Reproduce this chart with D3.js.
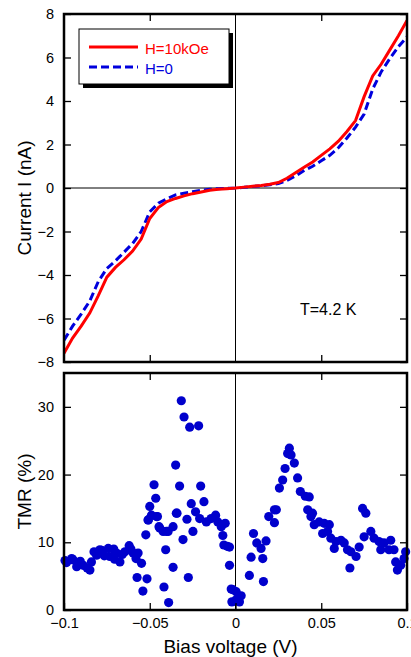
<!DOCTYPE html>
<html>
<head>
<meta charset="utf-8">
<script src="https://cdn.jsdelivr.net/npm/d3@7"></script>
<style>
  body { margin: 0; background: #fff; }
  svg { display: block; font-family: "Liberation Sans", Arial, Helvetica, sans-serif; }
</style>
</head>
<body>
<div id="chart"></div>
<script>
// bias voltage (V) for the I-V curves
const biasV = [-0.1, -0.095, -0.09, -0.085, -0.08, -0.075, -0.07, -0.065, -0.06, -0.055, -0.05,
  -0.045, -0.04, -0.035, -0.03, -0.025, -0.02, -0.015, -0.01, -0.005, 0,
  0.005, 0.01, 0.015, 0.02, 0.025, 0.03, 0.035, 0.04, 0.045, 0.05,
  0.055, 0.06, 0.065, 0.07, 0.075, 0.08, 0.085, 0.09, 0.095, 0.1];
// current (nA), H=10kOe
const currentH10 = [-7.6, -6.9, -6.35, -5.75, -4.95, -4.1, -3.65, -3.3, -2.9, -2.35, -1.4,
  -0.9, -0.62, -0.48, -0.36, -0.26, -0.18, -0.1, -0.06, -0.03, 0,
  0.04, 0.08, 0.12, 0.17, 0.25, 0.45, 0.7, 0.95, 1.2, 1.5,
  1.8, 2.15, 2.6, 3.1, 4.2, 5.15, 5.7, 6.35, 7.0, 7.7];
// current (nA), H=0
const currentH0 = [-7.0, -6.35, -5.8, -5.2, -4.3, -3.7, -3.35, -2.95, -2.55, -2.0, -1.1,
  -0.7, -0.5, -0.32, -0.24, -0.17, -0.1, -0.06, -0.03, -0.01, 0,
  0.03, 0.07, 0.1, 0.15, 0.2, 0.35, 0.55, 0.8, 1.0, 1.25,
  1.5, 1.85, 2.3, 2.8, 3.4, 4.55, 5.35, 5.95, 6.5, 6.95];

// TMR scatter: bias (V) and TMR (%)
const tmrV = [-0.0994, -0.0946, -0.0926, -0.0888, -0.0849, -0.084, -0.081, -0.0791, -0.0742, -0.0733,
  -0.0694, -0.0674, -0.0645, -0.062, -0.0597, -0.0568, -0.0548, -0.0574, -0.0516, -0.054,
  -0.0985, -0.0955, -0.0905, -0.0865, -0.0825, -0.078, -0.0765, -0.071, -0.0705, -0.066, -0.061, -0.058,
  -0.0523, -0.051, -0.05, -0.0465, -0.0461, -0.0442, -0.0403, -0.0364, -0.0407, -0.0364, -0.0417, -0.039, -0.0345,
  -0.0316, -0.03, -0.0267, -0.0215, -0.0349, -0.0475, -0.0326, -0.0203, -0.0184, -0.0258,
  -0.049, -0.0455, -0.0508, -0.0341, -0.0233, -0.0209, -0.0283, -0.017, -0.0142, -0.0116, -0.0103, -0.0083,
  -0.0446, -0.0422, -0.0393, -0.0248, -0.0306, -0.0074, -0.0068, -0.0048, -0.0275,
  -0.0035, -0.0021, 0.0004, -0.0035, -0.0025, -0.0016, 0.0033, 0.0004, 0.0023, -0.006,
  0.0314, 0.0324, 0.0304, 0.0343, 0.0289, 0.0362, 0.0275, 0.0256, 0.0378, 0.0407, 0.0421, 0.044, 0.0459,
  0.0227, 0.0194, 0.0227, 0.0238, 0.0105, 0.0124, 0.0178, 0.0149, 0.0159, 0.0091, 0.0081, 0.0163,
  0.043, 0.0449, 0.0488, 0.0517, 0.0547, 0.0508, 0.0537, 0.0556, 0.0586, 0.0615, 0.0576, 0.0634,
  0.0653, 0.0673, 0.0703, 0.0721, 0.0667, 0.0741, 0.076, 0.075, 0.0789, 0.0808, 0.0837, 0.0866,
  0.0905, 0.0847, 0.0895, 0.0924, 0.0934, 0.0944, 0.0963, 0.0992, 0.0983];
const tmrVal = [7.3, 7.4, 6.4, 6.6, 5.9, 7.1, 8.1, 8.9, 9.1, 7.9,
  8.4, 7.1, 8.6, 9.5, 8.4, 8.4, 6.9, 4.8, 4.6, 2.8,
  7.0, 7.6, 7.2, 6.2, 8.6, 8.8, 8.0, 9.0, 7.5, 8.2, 9.0, 7.6,
  11.1, 13.3, 15.3, 16.5, 13.8, 12.1, 11.6, 12.3, 8.9, 6.3, 3.4, 1.1, 14.3,
  30.9, 28.5, 27.0, 27.2, 21.4, 18.5, 18.3, 18.3, 16.0, 15.7,
  14.0, 13.8, 13.3, 14.3, 14.5, 13.5, 13.4, 13.0, 13.5, 14.0, 13.0, 12.3,
  12.3, 11.6, 11.6, 11.6, 10.4, 11.0, 9.6, 9.4, 4.8,
  6.6, 1.2, 2.7, 9.3, 3.1, 3.0, 2.1, 1.5, 1.2, 12.8,
  23.9, 22.9, 23.1, 21.7, 20.9, 19.5, 19.2, 18.0, 17.5, 16.8, 14.8, 13.8, 12.6,
  14.8, 13.8, 12.9, 14.8, 11.3, 9.9, 10.2, 9.1, 7.6, 7.8, 5.1, 4.2,
  16.7, 14.3, 13.0, 12.8, 12.6, 11.3, 11.6, 10.6, 10.1, 10.3, 9.1, 9.9,
  8.9, 8.6, 7.9, 9.3, 6.2, 15.0, 14.3, 10.8, 11.6, 10.6, 10.1, 9.9,
  10.3, 8.9, 8.9, 8.9, 7.1, 5.9, 6.6, 8.6, 7.6];

const xTicks = [-0.1, -0.05, 0, 0.05, 0.1];
const xTickLabels = ["\u22120.1", "\u22120.05", "0", "0.05", "0.1"];
const iTicks = [-8, -6, -4, -2, 0, 2, 4, 6, 8];
const tmrTicks = [0, 10, 20, 30];

const series = [
  { name: "H=10kOe", values: currentH10, color: "#ff0000", dash: null },
  { name: "H=0", values: currentH0, color: "#0000dd", dash: "8,4" }
];

const W = 411, H = 657;
const left = 64, right = 407;
const top1 = 14, bot1 = 362;
const top2 = 373, bot2 = 610;

const svg = d3.select("#chart").append("svg")
  .attr("width", W).attr("height", H);

const x = d3.scaleLinear().domain([-0.1, 0.1]).range([left, right]);
const y1 = d3.scaleLinear().domain([-8, 8]).range([bot1, top1]);
const y2 = d3.scaleLinear().domain([0, 35]).range([bot2, top2]);

svg.append("defs").append("clipPath").attr("id", "clip1")
  .append("rect").attr("x", left).attr("y", top1).attr("width", right - left).attr("height", bot1 - top1);

// ---------- top panel: I-V ----------
const g1 = svg.append("g");

// zero lines
g1.append("line").attr("x1", x(0)).attr("x2", x(0)).attr("y1", top1).attr("y2", bot1)
  .attr("stroke", "#000").attr("stroke-width", 1);
g1.append("line").attr("x1", left).attr("x2", right).attr("y1", y1(0)).attr("y2", y1(0))
  .attr("stroke", "#000").attr("stroke-width", 1);

const line = d3.line()
  .x((d, i) => x(biasV[i]))
  .y(d => y1(d));

// draw blue first so red sits on top where they overlap
series.slice().reverse().forEach(s => {
  g1.append("path")
    .attr("clip-path", "url(#clip1)")
    .attr("d", line(s.values))
    .attr("fill", "none")
    .attr("stroke", s.color)
    .attr("stroke-width", 3)
    .attr("stroke-dasharray", s.dash);
});

// axes, ticks pointing inward
g1.append("g").attr("transform", `translate(${left},0)`)
  .call(d3.axisLeft(y1).tickValues(iTicks).tickSize(-7).tickPadding(10)
    .tickFormat(d => d3.format("")(d).replace("-", "\u2212")));
g1.append("g").attr("transform", `translate(${right},0)`)
  .call(d3.axisRight(y1).tickValues(iTicks).tickSize(-7).tickFormat(""));
g1.append("g").attr("transform", `translate(0,${bot1})`)
  .call(d3.axisBottom(x).tickValues([-0.05, 0.05]).tickSize(-7).tickFormat(""));
g1.append("g").attr("transform", `translate(0,${top1})`)
  .call(d3.axisTop(x).tickValues([-0.05, 0.05]).tickSize(-7).tickFormat(""));

g1.append("rect").attr("x", left).attr("y", top1).attr("width", right - left).attr("height", bot1 - top1)
  .attr("fill", "none").attr("stroke", "#000").attr("stroke-width", 2.5);

// legend with drop shadow
const lg = g1.append("g");
lg.append("rect").attr("x", 83).attr("y", 33).attr("width", 150).attr("height", 55).attr("fill", "#000");
lg.append("rect").attr("x", 79).attr("y", 29).attr("width", 150).attr("height", 55)
  .attr("fill", "#fff").attr("stroke", "#000").attr("stroke-width", 1);
series.forEach((s, i) => {
  const ly = 47 + i * 20;
  lg.append("line").attr("x1", 89).attr("x2", 138).attr("y1", ly).attr("y2", ly)
    .attr("stroke", s.color).attr("stroke-width", 3).attr("stroke-dasharray", s.dash);
  lg.append("text").attr("x", 145).attr("y", ly + 7)
    .attr("fill", s.color).attr("font-size", 15).text(s.name);
});

g1.append("text").attr("x", 300).attr("y", 315).attr("font-size", 16).text("T=4.2 K");

g1.append("text")
  .attr("transform", `translate(31,${(top1 + bot1) / 2 + 10}) rotate(-90)`)
  .attr("text-anchor", "middle").attr("font-size", 19).text("Current I (nA)");

// ---------- bottom panel: TMR ----------
const g2 = svg.append("g");

g2.append("line").attr("x1", x(0)).attr("x2", x(0)).attr("y1", top2).attr("y2", bot2)
  .attr("stroke", "#000").attr("stroke-width", 1);

g2.selectAll("circle")
  .data(tmrV.map((v, i) => ({ v, t: tmrVal[i] })))
  .join("circle")
  .attr("cx", d => x(d.v))
  .attr("cy", d => y2(d.t))
  .attr("r", 4.6)
  .attr("fill", "#0000cc");

g2.append("g").attr("transform", `translate(${left},0)`)
  .call(d3.axisLeft(y2).tickValues(tmrTicks).tickSize(-7).tickPadding(10).tickFormat(d3.format("d")));
g2.append("g").attr("transform", `translate(${right},0)`)
  .call(d3.axisRight(y2).tickValues(tmrTicks).tickSize(-7).tickFormat(""));
g2.append("g").attr("transform", `translate(0,${bot2})`)
  .call(d3.axisBottom(x).tickValues(xTicks).tickSize(-7).tickPadding(8)
    .tickFormat((d, i) => xTickLabels[i]));
g2.append("g").attr("transform", `translate(0,${top2})`)
  .call(d3.axisTop(x).tickValues([-0.05, 0.05]).tickSize(-7).tickFormat(""));

g2.append("rect").attr("x", left).attr("y", top2).attr("width", right - left).attr("height", bot2 - top2)
  .attr("fill", "none").attr("stroke", "#000").attr("stroke-width", 2.5);

g2.append("text")
  .attr("transform", `translate(31,${(top2 + bot2) / 2}) rotate(-90)`)
  .attr("text-anchor", "middle").attr("font-size", 19).text("TMR (%)");

svg.append("text").attr("x", x(0) - 5).attr("y", 653)
  .attr("text-anchor", "middle").attr("font-size", 19).text("Bias voltage (V)");

// common axis styling
svg.selectAll(".domain").remove();
svg.selectAll(".tick line").attr("stroke", "#000").attr("stroke-width", 1.3);
svg.selectAll(".tick text").attr("font-size", 14.5).attr("fill", "#000")
  .attr("font-family", "'Liberation Sans', Arial, sans-serif");
</script>
</body>
</html>
